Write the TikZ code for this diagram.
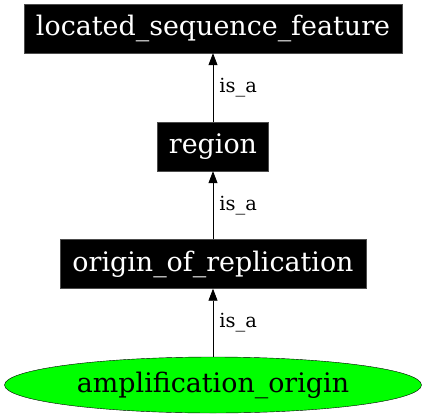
\documentclass[tikz,border=0pt]{standalone}
\usepackage{fontspec}
\setmainfont{DejaVu Serif}
\usetikzlibrary{arrows.meta,shapes.geometric}
\begin{document}
\begin{tikzpicture}[x=1bp,y=-1bp,
  blk/.style={fill=black,draw=black!70,text=white,inner sep=0pt,minimum height=49bp,font=\fontsize{27}{30}\selectfont},
  ell/.style={ellipse,fill=green,draw=black,inner sep=0pt,minimum width=417bp,minimum height=56bp,font=\fontsize{27}{30}\selectfont},
  edge/.style={draw=black,line width=0.8bp,-{Triangle[width=9bp,length=12bp]}},
  lbl/.style={anchor=west,inner sep=0pt,font=\fontsize{19.5}{22}\selectfont}]
\useasboundingbox (0,0) rectangle (427,419);
\node[blk,minimum width=377.5bp] (lsf) at (213,28.5) {located\_sequence\_feature};
\node[blk,minimum width=111bp] (reg) at (213,146.5) {region};
\node[blk,minimum width=306bp] (ori) at (213,264) {origin\_of\_replication};
\node[ell] (amp) at (213,385) {amplification\_origin};
\draw[edge] (reg.north) -- (lsf.south) node[lbl,pos=0.5,xshift=6bp] {is\_a};
\draw[edge] (ori.north) -- (reg.south) node[lbl,pos=0.5,xshift=6bp] {is\_a};
\draw[edge] (amp.north) -- (ori.south) node[lbl,pos=0.5,xshift=6bp] {is\_a};
\end{tikzpicture}
\end{document}
